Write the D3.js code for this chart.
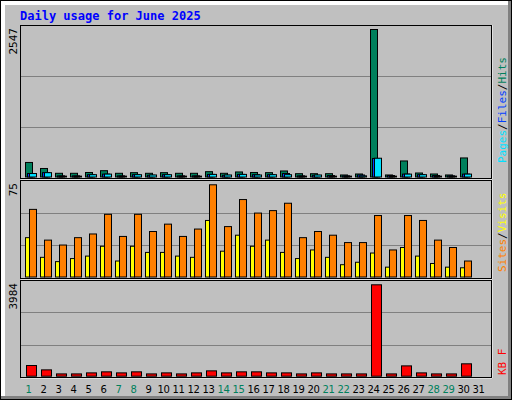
<!DOCTYPE html>
<html><head><meta charset="utf-8">
<script src="https://cdn.jsdelivr.net/npm/d3@7"></script>
<style>body{margin:0;background:#fff}svg{display:block}</style>
</head><body><svg id="c" width="512" height="400"></svg>
<script>
const days = d3.range(1,32);
const weekend = [1,7,8,14,15,21,22,28,29];
const hits  = [251,147,64,64,78,109,64,75,64,75,64,64,92,64,87,78,75,104,57,57,57,35,52,2547,35,277,69,52,35,329,0];
const files = [60,75,20,20,40,50,20,40,30,40,20,20,45,30,45,40,40,60,20,30,25,20,35,320,25,50,40,25,20,50,0];
const pages = [60,75,15,15,40,50,15,40,35,40,15,15,45,35,45,35,40,40,15,35,15,15,20,324,15,50,40,15,15,50,0];
const sites = [55,30,26,32,35,51,33,51,37,43,33,39,75,41,63,52,54,60,32,37,34,28,28,50,22,50,46,30,24,13,0];
const visits= [32,16,12.5,15,17,25,13,25,20,20,17,16,46,21,34,25,30,20,15,22,16,10,12,19.5,8,24,17,11,8,7.5,0];
const kbytes= [466,276,100,100,145,190,145,190,100,145,100,145,233,145,190,190,145,145,100,145,100,100,100,3984,100,450,145,100,100,540,0];

const svg = d3.select("#c");
svg.append("rect").attr("x",0).attr("y",0).attr("width",512).attr("height",400).attr("fill","#000");
svg.append("rect").attr("x",1).attr("y",1).attr("width",510).attr("height",398).attr("fill","#808080");
svg.append("rect").attr("x",1).attr("y",1).attr("width",507).attr("height",395).attr("fill","#fff");
svg.append("rect").attr("x",5).attr("y",5).attr("width",503).attr("height",391).attr("fill","#c0c0c0");

svg.append("text").attr("x",20).attr("y",20).attr("font-family","DejaVu Sans Mono").attr("font-weight","bold")
  .attr("font-size",12).attr("fill","#0000ff").text("Daily usage for June 2025");

const x = d3.scaleBand().domain(days).range([22,487]).padding(0);
const panels = [
  {top:25,bottom:178,base:176.5,topv:29,max:2547},
  {top:180,bottom:278,base:276.5,topv:184.3,max:75},
  {top:280,bottom:377,base:375.7,topv:284.3,max:3984}
];
panels.forEach(p=>{
  svg.append("line").attr("x1",21).attr("x2",492).attr("y1",p.bottom+1).attr("y2",p.bottom+1).attr("stroke","#fff");
  svg.append("line").attr("x1",492).attr("x2",492).attr("y1",p.top).attr("y2",p.bottom+1).attr("stroke","#fff");
  svg.append("rect").attr("x",20.5).attr("y",p.top+0.5).attr("width",471).attr("height",p.bottom-p.top).attr("fill","none").attr("stroke","#000");
  const h=p.bottom-p.top;
  [1/3,2/3].forEach(f=>svg.append("line").attr("x1",21).attr("x2",491).attr("y1",Math.round(p.top+h*f)+0.5).attr("y2",Math.round(p.top+h*f)+0.5).attr("stroke","#808080"));
  p.y=d3.scaleLinear().domain([0,p.max]).range([p.base,p.topv]);
  svg.append("text").attr("transform",`translate(17,${p.top+3}) rotate(-90)`).attr("text-anchor","end")
   .attr("font-family","DejaVu Sans Mono").attr("font-size",11).text(p.max);
});

function bars(data,p,dx,w,color){
  svg.append("g").selectAll("rect").data(days).join("rect")
   .attr("x",d=>x(d)+dx+0.5).attr("width",w)
   .attr("y",(d,i)=>p.y(data[i])+0.5)
   .attr("height",(d,i)=>Math.max(0,p.y(0)-p.y(data[i])))
   .attr("fill",color).attr("stroke","#000").attr("display",(d,i)=>data[i]>0?null:"none");
}
bars(hits,panels[0],3,7,"#00805c");
bars(files,panels[0],5,7,"#0040ff");
bars(pages,panels[0],7,7,"#00e0ff");
bars(visits,panels[1],3,4,"#ffff00");
bars(sites,panels[1],7,7,"#ff8000");
bars(kbytes,panels[2],4,10,"#ff0000");

svg.append("g").selectAll("text").data(days).join("text")
  .attr("x",d=>x(d)+x.bandwidth()/2-1).attr("y",393).attr("text-anchor","middle")
  .attr("font-family","DejaVu Sans").attr("font-size",10).attr("letter-spacing",-0.3)
  .attr("fill",d=>weekend.includes(d)?"#00805c":"#000").text(d=>d);

function legend(parts,yEnd){
  const t=svg.append("text").attr("transform",`translate(506,${yEnd}) rotate(-90)`)
   .attr("font-family","DejaVu Sans Mono").attr("font-size",11);
  parts.forEach(([s,c])=>t.append("tspan").attr("fill",c).text(s));
}
legend([["Pages","#00e0ff"],["/","#000"],["Files","#0040ff"],["/","#000"],["Hits","#00805c"]],163);
legend([["Sites","#ff8000"],["/","#000"],["Visits","#ffff00"]],272);
legend([["KB F","#ff0000"]],375);
</script></body></html>
